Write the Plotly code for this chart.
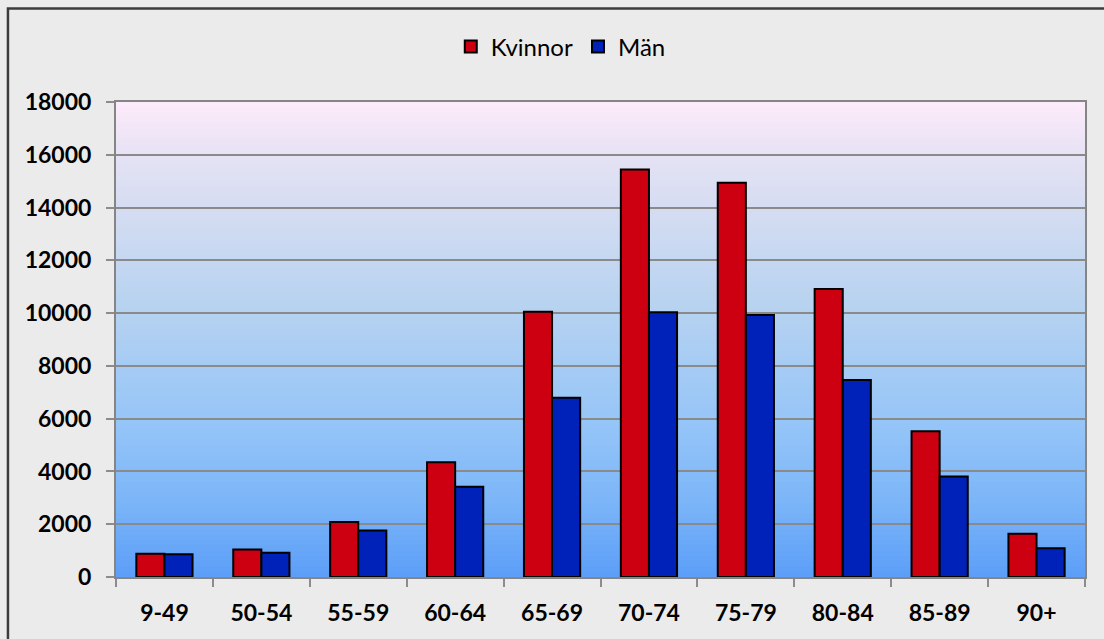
import plotly.graph_objects as go

categories = ["9-49", "50-54", "55-59", "60-64", "65-69", "70-74", "75-79", "80-84", "85-89", "90+"]
kvinnor = [880, 1040, 2080, 4350, 10050, 15440, 14940, 10910, 5520, 1640]
man = [860, 920, 1760, 3420, 6790, 10030, 9930, 7470, 3810, 1090]
y_ticks = [0, 2000, 4000, 6000, 8000, 10000, 12000, 14000, 16000, 18000]

RED = "#cc0011"
BLUE = "#0022b8"
FONT = "Lato"

fig = go.Figure()
fig.add_trace(go.Bar(name="Kvinnor", x=categories, y=kvinnor,
                     marker=dict(color=RED, line=dict(color="black", width=2))))
fig.add_trace(go.Bar(name="Män", x=categories, y=man,
                     marker=dict(color=BLUE, line=dict(color="black", width=2))))

# gradient plot background
stops = [(0.0, (0x5c, 0x9e, 0xf8)), (0.15, (0x7a, 0xb4, 0xf8)), (0.31, (0x94, 0xc4, 0xf8)),
         (0.58, (0xb8, 0xd3, 0xf0)), (0.89, (0xe6, 0xe2, 0xf4)), (1.0, (0xfd, 0xec, 0xfa))]

def col(t):
    for (a, ca), (b, cb) in zip(stops[:-1], stops[1:]):
        if a <= t <= b:
            f = (t - a) / (b - a)
            c = [round(ca[i] + (cb[i] - ca[i]) * f) for i in range(3)]
            return "rgb(%d,%d,%d)" % tuple(c)
    return "rgb(253,236,250)"

shapes = []
N = 90
for i in range(N):
    y0 = i / N
    y1 = (i + 1) / N + 0.002
    shapes.append(dict(type="rect", xref="paper", yref="paper", x0=0, x1=1, y0=y0, y1=min(y1, 1),
                       fillcolor=col((i + 0.5) / N), line=dict(width=0), layer="below"))
# outer chart border
shapes.append(dict(type="rect", xref="paper", yref="paper", x0=-0.1115, x1=1.5, y0=-0.6, y1=1.197,
                   line=dict(color="#3c3c3c", width=2.5), fillcolor="rgba(0,0,0,0)", layer="below"))

fig.update_layout(
    width=1104, height=639,
    margin=dict(l=116, r=19, t=102, b=62),
    paper_bgcolor="#ebebeb",
    plot_bgcolor="rgba(0,0,0,0)",
    barmode="group", bargap=0.42, bargroupgap=0,
    shapes=shapes,
    font=dict(family=FONT, color="black"),
    legend=dict(orientation="h", x=0.459, xanchor="center", y=1.116, yanchor="middle",
                font=dict(family=FONT, size=24, color="black"), bgcolor="rgba(0,0,0,0)",
                itemwidth=30, traceorder="normal"),
    xaxis=dict(tickson="boundaries", ticks="outside", ticklen=8, tickwidth=2, tickcolor="#8c8c8c",
               showline=True, linecolor="#858585", linewidth=2, mirror=True, showgrid=False,
               tickfont=dict(family=FONT, size=23, color="black", weight="bold"),
               ticklabelstandoff=14),
    yaxis=dict(range=[0, 18000], tickvals=y_ticks, ticktext=[str(v) for v in y_ticks],
               ticks="outside", ticklen=8, tickwidth=2, tickcolor="#8c8c8c",
               showline=True, linecolor="#858585", linewidth=2, mirror=True,
               showgrid=True, gridcolor="#8a8a8a", gridwidth=2, zeroline=False,
               tickfont=dict(family=FONT, size=23, color="black", weight="bold"),
               ticklabelstandoff=10),
)

fig.write_html("out.html", config={"displayModeBar": False},
               post_script="document.body.style.margin='0';document.body.style.background='#ebebeb';")
